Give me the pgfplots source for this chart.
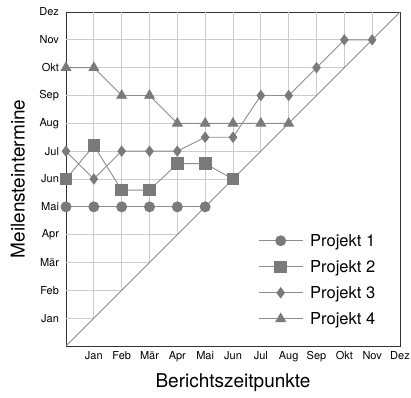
\documentclass[border=0pt]{standalone}
\usepackage{fontspec}
\setmainfont{TeX Gyre Heros}
\usepackage{pgfplots}
\pgfplotsset{compat=1.18}
\definecolor{mk}{HTML}{7A7A7A}
\definecolor{ln}{HTML}{8C8C8C}
\definecolor{gridc}{HTML}{CCCCCC}
\definecolor{diag}{HTML}{8A8A8A}
\begin{document}
\begin{tikzpicture}
\useasboundingbox (-66pt,-51pt) rectangle (345pt,346pt);
\begin{axis}[
  at={(0pt,0pt)}, anchor=south west,
  scale only axis, width=334pt, height=334pt,
  xmin=0, xmax=12, ymin=0, ymax=12,
  clip=false,
  xtick={1,...,12}, ytick={1,...,12},
  xticklabels={Jan,Feb,Mär,Apr,Mai,Jun,Jul,Aug,Sep,Okt,Nov,Dez},
  yticklabels={Jan,Feb,Mär,Apr,Mai,Jun,Jul,Aug,Sep,Okt,Nov,Dez},
  xtick pos=upper, xticklabel pos=lower,
  ytick pos=left,
  tick align=inside,
  major tick length=10pt,
  tick style={black!60, line width=0.8pt},
  ticklabel style={font=\fontsize{11}{13}\selectfont},
  xticklabel style={yshift=-2pt},
  yticklabel style={xshift=-3.5pt},
  axis line style={black!80, line width=0.8pt},
  xlabel={Berichtszeitpunkte},
  ylabel={Meilensteintermine},
  label style={font=\fontsize{19}{22}\selectfont},
  xlabel style={at={(axis description cs:0.5,-0.111)}, anchor=center},
  ylabel style={at={(axis description cs:-0.144,0.5)}, anchor=center},
  legend style={at={(axis description cs:0.575,0.342)}, anchor=north west,
    draw=none, fill=none, font=\fontsize{16.5}{19}\selectfont,
    row sep=8.5pt, inner sep=0pt,
    /tikz/every odd column/.append style={column sep=5pt}},
  legend cell align=left,
  legend image code/.code={\draw[mark repeat=2,mark phase=2] plot coordinates {(0pt,0pt) (22pt,0pt) (44pt,0pt)};},
]
\pgfplotsinvokeforeach{1,...,11}{
  \addplot[gridc, line width=0.8pt, forget plot] coordinates {(#1,#1) (#1,12)};
  \addplot[gridc, line width=0.8pt, forget plot] coordinates {(0,#1) (#1,#1)};
}
\addplot[diag, line width=0.8pt, forget plot] coordinates {(0,0) (12,12)};

\addplot[ln, line width=0.9pt, mark=*, mark size=5pt, mark options={mk, fill=mk, draw=mk}]
  coordinates {(0,5) (1,5) (2,5) (3,5) (4,5) (5,5)};
\addlegendentry{Projekt 1}
\addplot[ln, line width=0.9pt, mark=square*, mark size=5.8pt, mark options={mk, fill=mk, draw=mk}]
  coordinates {(0,6) (1,7.2) (2,5.6) (3,5.6) (4,6.55) (5,6.55) (6,6)};
\addlegendentry{Projekt 2}
\addplot[ln, line width=0.9pt, mark=diamond*, mark size=5pt, mark options={mk, fill=mk, draw=mk}]
  coordinates {(0,7) (1,6) (2,7) (3,7) (4,7) (5,7.5) (6,7.5) (7,9) (8,9) (9,10) (10,11) (11,11)};
\addlegendentry{Projekt 3}
\addplot[ln, line width=0.9pt, mark=triangle*, mark size=5.5pt, mark options={mk, fill=mk, draw=mk}]
  coordinates {(0,10) (1,10) (2,9) (3,9) (4,8) (5,8) (6,8) (7,8) (8,8)};
\addlegendentry{Projekt 4}
\end{axis}
\end{tikzpicture}
\end{document}
